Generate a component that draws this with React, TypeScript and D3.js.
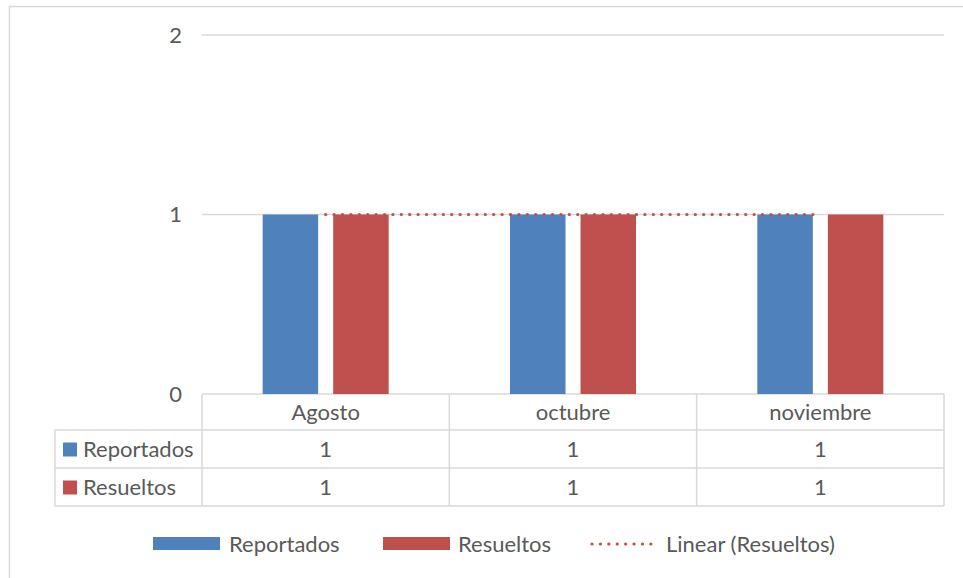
import React from "react";
import * as d3 from "d3";

const categories = ["Agosto", "octubre", "noviembre"];
const seriesNames = ["Reportados", "Resueltos"];
const reportados = [1, 1, 1];
const resueltos = [1, 1, 1];
const yTicks = [0, 1, 2];
const trendLabel = "Linear (Resueltos)";

const colors: Record<string, string> = { Reportados: "#4f81bd", Resueltos: "#c0504d" };
const gridColor = "#d9d9d9";
const textColor = "#595959";
const font = "Lato, 'Open Sans', sans-serif";
const fs = 22;

export default function App() {
  const W = 963;
  const H = 578;
  const plot = { left: 202, right: 944, top: 35, bottom: 394 };
  const rowH = [36, 38, 38];
  const tableLeft = 55;

  const x0 = d3.scaleBand<string>().domain(categories).range([plot.left, plot.right]);
  const bw = x0.bandwidth();
  const groupW = 126;
  const x1 = d3
    .scaleBand<string>()
    .domain(seriesNames)
    .range([(bw - groupW) / 2, (bw + groupW) / 2])
    .paddingInner(0.213);
  const y = d3.scaleLinear().domain([0, 2]).range([plot.bottom, plot.top]);

  const values: Record<string, number[]> = { Reportados: reportados, Resueltos: resueltos };

  // least-squares fit on Resueltos over category index
  const idx = resueltos.map((_, i) => i + 1);
  const mx = d3.mean(idx)!;
  const my = d3.mean(resueltos)!;
  const sxy = d3.sum(idx, (v, i) => (v - mx) * (resueltos[i] - my));
  const sxx = d3.sum(idx, (v) => (v - mx) * (v - mx));
  const slope = sxx === 0 ? 0 : sxy / sxx;
  const icpt = my - slope * mx;
  const trendPts: [number, number][] = idx.map((v, i) => [
    x0(categories[i])! + bw / 2,
    y(icpt + slope * v),
  ]);
  const trendPath = d3.line()([trendPts[0], trendPts[trendPts.length - 1]])!;

  const rowTop = [plot.bottom, plot.bottom + rowH[0], plot.bottom + rowH[0] + rowH[1]];
  const tableBottom = rowTop[2] + rowH[2];

  const legendY = 544;

  return (
    <svg
      width={W}
      height={H}
      style={{ position: "absolute", left: 0, top: 0, background: "#fff" }}
      fontFamily={font}
    >
      <rect x={9.5} y={6.5} width={W + 20} height={H + 20} fill="#fff" stroke={gridColor} strokeWidth={1.5} />

      {/* gridlines and value axis labels */}
      {yTicks.map((t) => (
        <g key={t}>
          <line x1={plot.left} x2={plot.right} y1={y(t)} y2={y(t)} stroke={gridColor} strokeWidth={1.5} />
          <text x={182} y={y(t)} dy="0.35em" textAnchor="end" fontSize={fs} fill={textColor}>
            {t}
          </text>
        </g>
      ))}

      {/* bars */}
      {categories.map((c, i) => (
        <g key={c} transform={`translate(${x0(c)},0)`}>
          {seriesNames.map((s) => (
            <rect
              key={s}
              x={x1(s)}
              y={y(values[s][i])}
              width={x1.bandwidth()}
              height={y(0) - y(values[s][i])}
              fill={colors[s]}
            />
          ))}
        </g>
      ))}

      {/* trendline */}
      <path
        d={trendPath}
        fill="none"
        stroke={colors.Resueltos}
        strokeWidth={3.2}
        strokeLinecap="round"
        strokeDasharray="0.1 8.3"
      />

      {/* data table */}
      <g stroke={gridColor} strokeWidth={1.5}>
        {[rowTop[1], rowTop[2], tableBottom].map((yy, i) => (
          <line key={i} x1={tableLeft} x2={plot.right} y1={yy} y2={yy} />
        ))}
        <line x1={tableLeft} x2={tableLeft} y1={rowTop[1]} y2={tableBottom} />
        {[plot.left, ...categories.map((c) => x0(c)! + bw)].map((xx, i) => (
          <line key={i} x1={xx} x2={xx} y1={plot.bottom} y2={tableBottom} />
        ))}
      </g>
      {categories.map((c) => (
        <text
          key={c}
          x={x0(c)! + bw / 2}
          y={rowTop[0] + rowH[0] / 2}
          dy="0.35em"
          textAnchor="middle"
          fontSize={fs}
          fill={textColor}
        >
          {c}
        </text>
      ))}
      {seriesNames.map((s, r) => {
        const cy = rowTop[r + 1] + rowH[r + 1] / 2;
        return (
          <g key={s}>
            <rect x={63} y={cy - 6.5} width={14} height={14} fill={colors[s]} />
            <text x={83} y={cy} dy="0.35em" fontSize={fs} fill={textColor}>
              {s}
            </text>
            {categories.map((c, i) => (
              <text
                key={c}
                x={x0(c)! + bw / 2}
                y={cy}
                dy="0.35em"
                textAnchor="middle"
                fontSize={fs}
                fill={textColor}
              >
                {values[s][i]}
              </text>
            ))}
          </g>
        );
      })}

      {/* legend */}
      <rect x={153} y={legendY - 7} width={67} height={13} fill={colors.Reportados} />
      <text x={229} y={legendY} dy="0.35em" fontSize={fs} fill={textColor}>
        {seriesNames[0]}
      </text>
      <rect x={383} y={legendY - 7} width={67} height={13} fill={colors.Resueltos} />
      <text x={458} y={legendY} dy="0.35em" fontSize={fs} fill={textColor}>
        {seriesNames[1]}
      </text>
      <line
        x1={592}
        x2={659}
        y1={legendY}
        y2={legendY}
        stroke={colors.Resueltos}
        strokeWidth={3.2}
        strokeLinecap="round"
        strokeDasharray="0.1 8.3"
      />
      <text x={666} y={legendY} dy="0.35em" fontSize={fs} fill={textColor}>
        {trendLabel}
      </text>
    </svg>
  );
}
